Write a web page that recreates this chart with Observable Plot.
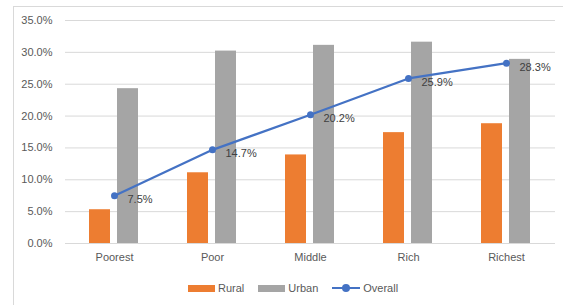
<!DOCTYPE html>
<html><head><meta charset="utf-8">
<script src="https://cdn.jsdelivr.net/npm/d3@7"></script>
<script src="https://cdn.jsdelivr.net/npm/@observablehq/plot@0.6"></script>
<style>
body{margin:0;background:#fff;font-family:"Liberation Sans",Arial,sans-serif;}
#wrap{position:relative;width:563px;height:305px;overflow:hidden;}
#frame{position:absolute;left:13px;top:6px;width:600px;height:400px;border-left:1px solid #d9d9d9;border-top:1px solid #d9d9d9;}
#chart{position:absolute;left:0;top:0;}
#legend{position:absolute;top:281px;left:188px;display:flex;align-items:center;font-size:11px;color:#595959;height:14px;}
.sw{display:inline-block;width:27px;height:7px;margin-right:3px;}
.item{display:flex;align-items:center;margin-right:14px;}
.ln{position:relative;width:28px;height:2px;background:#4472C4;margin-right:3px;}
.ln::after{content:"";position:absolute;left:10px;top:-3px;width:8px;height:8px;border-radius:50%;background:#4472C4;}
</style></head>
<body>
<div id="wrap">
<div id="frame"></div>
<div id="chart"></div>
<div id="legend">
  <div class="item"><span class="sw" style="background:#ED7D31"></span>Rural</div>
  <div class="item"><span class="sw" style="background:#A5A5A5"></span>Urban</div>
  <div class="item"><span class="ln"></span>Overall</div>
</div>
</div>
<script>
const categories = ["Poorest", "Poor", "Middle", "Rich", "Richest"];
const rural = [5.3, 11.1, 13.9, 17.4, 18.8];
const urban = [24.3, 30.2, 31.1, 31.6, 28.9];
const overall = [7.5, 14.7, 20.2, 25.9, 28.3];
const yTicks = [0, 5, 10, 15, 20, 25, 30, 35];

const ruralData = categories.map((c, i) => ({cat: c, v: rural[i]}));
const urbanData = categories.map((c, i) => ({cat: c, v: urban[i]}));
const overallData = categories.map((c, i) => ({cat: c, v: overall[i]}));

const chart = Plot.plot({
  width: 563,
  height: 270,
  marginLeft: 65,
  marginRight: 8,
  marginTop: 20,
  marginBottom: 27,
  style: {fontFamily: "'Liberation Sans', Arial, sans-serif", fontSize: "11px", background: "transparent", color: "#595959"},
  x: {domain: categories, padding: 0, label: null, tickSize: 0, tickPadding: 10},
  y: {domain: [0, 35], ticks: yTicks, tickFormat: d => d.toFixed(1) + "%", label: null, tickSize: 0, tickPadding: 13},
  marks: [
    Plot.ruleY(yTicks, {stroke: "#d9d9d9", strokeWidth: 1}),
    Plot.barY(ruralData, {x: "cat", y: "v", fill: "#ED7D31", insetLeft: 24, insetRight: 53}),
    Plot.barY(urbanData, {x: "cat", y: "v", fill: "#A5A5A5", insetLeft: 52, insetRight: 25}),
    Plot.line(overallData, {x: "cat", y: "v", stroke: "#4472C4", strokeWidth: 2.25}),
    Plot.dot(overallData, {x: "cat", y: "v", fill: "#4472C4", r: 3.5}),
    Plot.text(overallData, {x: "cat", y: "v", text: d => d.v.toFixed(1) + "%", dx: 13, dy: 4, textAnchor: "start", fill: "#404040", fontSize: 11})
  ]
});
document.getElementById("chart").appendChild(chart);
</script>
</body></html>
